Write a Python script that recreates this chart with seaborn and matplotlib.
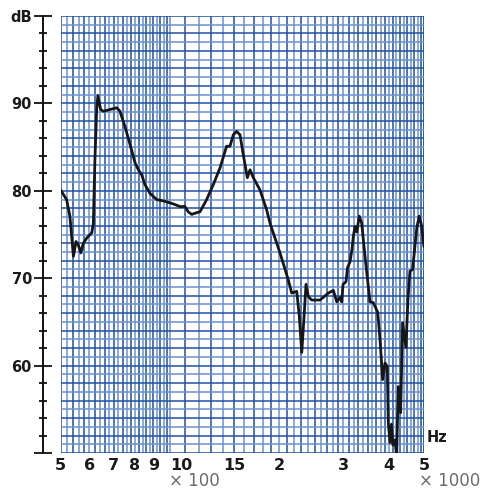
import matplotlib
matplotlib.use("Agg")
import matplotlib.pyplot as plt
from matplotlib.ticker import NullLocator
import numpy as np
import pandas as pd
import seaborn as sns

# Measured frequency response (Hz, dB)
freq_hz = [500, 503, 519, 530, 542, 551, 559, 568, 577, 590, 609, 615, 621, 628,
           633, 644, 655, 683, 713, 728, 752, 776, 801, 818, 836, 853, 881, 919,
           968, 1020, 1065, 1099, 1122, 1147, 1184, 1209, 1261, 1315, 1372, 1431,
           1462, 1493, 1525, 1558, 1591, 1632, 1660, 1695, 1768, 1845, 1884, 2007,
           2116, 2162, 2232, 2269, 2304, 2338, 2367, 2402, 2454, 2587, 2727, 2815,
           2876, 2937, 2968, 2993, 3050, 3079, 3129, 3168, 3195, 3229, 3264, 3318,
           3369, 3440, 3551, 3626, 3729, 3783, 3848, 3905, 3962, 3987, 4030, 4068,
           4107, 4159, 4204, 4247, 4311, 4366, 4459, 4516, 4573, 4652, 4719, 4779,
           4850, 4918, 5000]
level_db = [80.1, 79.9, 79.0, 77.1, 72.5, 74.2, 73.8, 72.9, 74.0, 74.6, 75.2, 76.3,
            83.5, 89.3, 90.9, 89.3, 89.1, 89.3, 89.5, 89.1, 87.3, 85.3, 83.2, 82.4,
            81.8, 80.7, 79.7, 79.0, 78.8, 78.5, 78.2, 78.2, 77.6, 77.3, 77.5, 77.6,
            79.0, 80.7, 82.6, 85.1, 85.1, 86.4, 86.8, 86.4, 84.1, 81.5, 82.4, 81.5,
            80.1, 77.8, 76.3, 72.9, 69.8, 68.3, 68.5, 65.6, 61.5, 65.6, 69.3, 67.9,
            67.5, 67.5, 68.3, 68.6, 67.3, 67.8, 67.3, 69.3, 69.6, 71.2, 71.9, 73.3,
            74.8, 75.9, 75.3, 77.1, 76.3, 72.5, 67.3, 67.2, 66.1, 63.0, 58.4, 60.3,
            59.9, 53.5, 51.2, 53.3, 50.9, 51.5, 49.6, 57.6, 54.6, 64.9, 62.1, 67.5,
            70.8, 71.0, 73.6, 75.8, 77.1, 76.1, 73.6]

# Axis ticks and labels
x_tick_freqs = [500, 600, 700, 800, 900, 1000, 1500, 2000, 3000, 4000, 5000]
x_tick_labels = ["5", "6", "7", "8", "9", "10", "15", "2", "3", "4", "5"]
y_major = [50, 60, 70, 80, 90, 100]
y_major_labels = ["", "60", "70", "80", "90", "dB"]
y_minor = list(range(50, 101, 2))

# Chart-paper grid
grid_freqs = list(range(500, 1000, 20)) + list(range(1000, 5001, 100))
grid_levels = list(range(50, 101))

sns.set_theme(style="white")
plt.rcParams["font.family"] = ["DejaVu Sans"]

W, H = 484, 492
fig = plt.figure(figsize=(W / 100, H / 100), dpi=100)
left, right, top, bottom = 60.7, 424.0, 16.0, 453.0
ax = fig.add_axes([left / W, 1 - bottom / H, (right - left) / W, (bottom - top) / H])
ax.set_facecolor("white")
ax.set_xscale("log")
ax.set_xlim(500, 5000)
ax.set_ylim(50, 100)

dark = "#1f4fa3"
light = "#6b91cf"
for i, f in enumerate(grid_freqs):
    ax.axvline(f, color=dark if i % 2 == 0 else light, lw=1.1, zorder=1)
ax.axvline(5000, color=dark, lw=1.2, zorder=1)
for lv in grid_levels:
    ax.axhline(lv, color=dark if lv % 2 == 0 else light, lw=1.1, zorder=1)

df = pd.DataFrame({"freq": freq_hz, "level": level_db})
sns.lineplot(data=df, x="freq", y="level", sort=False, estimator=None,
             color="#161616", lw=2.0, ax=ax, zorder=3)

ax.set_xlabel("")
ax.set_ylabel("")

for s in ("top", "right", "bottom"):
    ax.spines[s].set_visible(False)
ax.spines["left"].set_position(("outward", 17.7 * 0.72))
ax.spines["left"].set_color("#111111")
ax.spines["left"].set_linewidth(1.4)
ax.spines["left"].set_bounds(50, 100)

ax.set_yticks(y_major, y_major_labels)
ax.set_yticks(y_minor, minor=True)
ax.tick_params(axis="y", which="major", direction="inout", length=13, width=1.3,
               color="#111111", labelsize=10.5, pad=1.5, left=True)
ax.tick_params(axis="y", which="minor", direction="inout", length=6, width=1.3,
               color="#111111", left=True)
for t in ax.get_yticklabels():
    t.set_fontweight("bold")
    t.set_color("#1a1a1a")

ax.xaxis.set_minor_locator(NullLocator())
ax.set_xticks(x_tick_freqs, x_tick_labels)
ax.tick_params(axis="x", which="both", length=0, pad=3.5, labelsize=11.5)
for t in ax.get_xticklabels():
    t.set_fontweight("bold")
    t.set_color("#1a1a1a")
    if t.get_text() == "10":
        t.set_horizontalalignment("left")

fig.text(194 / W, 1 - 481 / H, "× 100", ha="center", va="center",
         fontsize=12, color="#6a6a6a")
fig.text(450 / W, 1 - 481 / H, "× 1000", ha="center", va="center",
         fontsize=12, color="#6a6a6a")
fig.text(437 / W, 1 - 438 / H, "Hz", ha="center", va="center",
         fontsize=10.5, fontweight="bold", color="#1a1a1a")

fig.savefig("out.png", dpi=100, facecolor="white")
